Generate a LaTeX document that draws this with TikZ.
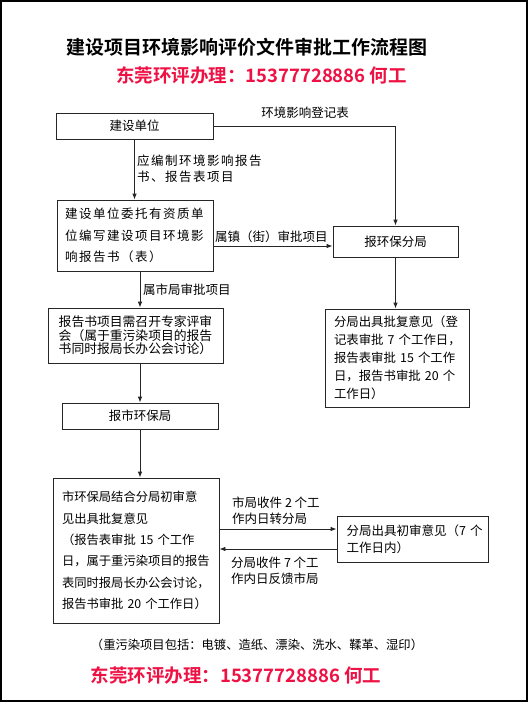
\documentclass[tikz,border=0pt]{standalone}
\usepackage{fontspec}
\setmainfont{Noto Sans CJK SC}[BoldFont={Noto Sans CJK SC Bold}]
\usetikzlibrary{arrows.meta}
\definecolor{adred}{HTML}{EE1144}
\newcommand\bxf{\fontsize{12.5}{16}\selectfont}
\begin{document}
\begin{tikzpicture}[x=1pt,y=-1pt,
  box/.style={draw=black!85, line width=0.8pt, rectangle, inner sep=0pt, font=\bxf},
  arr/.style={-{Latex[length=6pt,width=4.5pt]}, line width=0.8pt, draw=black!85},
  lbl/.style={font=\bxf, inner sep=1pt, align=left},
  redtxt/.style={text=adred, font=\fontsize{18.5}{20}\selectfont\bfseries, inner sep=0pt}]
\useasboundingbox (0,0) rectangle (528,702);
\draw[line width=2pt] (1,1) rectangle (527,701);

\node[font=\fontsize{19}{21}\selectfont\bfseries, inner sep=0pt] (T) at (247,47) {建设项目环境影响评价文件审批工作流程图};
\node[redtxt] (R1) at (261.5,75) {东莞环评办理：15377728886 何工};

\node[box, minimum width=157pt, minimum height=26pt] (B1) at (134.5,126) {建设单位};
\node[box, minimum width=156pt, minimum height=71pt, text width=140pt, align=left,
  font=\fontsize{12.5}{21.5}\selectfont\addfontfeature{LetterSpace=12}] (B2) at (135,235.5)
  {建设单位委托有资质单\\位编写建设项目环境影\\响报告书（表）};
\node[box, minimum width=125pt, minimum height=31pt] (BF) at (395.5,241.5) {报环保分局};
\node[box, minimum width=175pt, minimum height=55pt, text width=154pt, align=center,
  font=\fontsize{12.8}{13.6}\selectfont] (B3) at (135.5,335.5)
  {报告书项目需召开专家评审\\会（属于重污染项目的报告\\书同时报局长办公会讨论）};
\node[box, minimum width=156pt, minimum height=26pt] (B4) at (140,416) {报市环保局};
\node[box, minimum width=144pt, minimum height=98pt, text width=126pt, align=left,
  font=\fontsize{12.4}{18}\selectfont] (BR) at (397,358)
  {分局出具批复意见（登\\记表审批~7~个工作日，\\报告表审批~15~个工作\\日，报告书审批~20~个\\工作日）};
\node[box, minimum width=166pt, minimum height=145pt, text width=148pt, align=left,
  font=\fontsize{12.3}{21.4}\selectfont] (B5) at (136,550.5)
  {市环保局结合分局初审意\\见出具批复意见\\（报告表审批~15~个工作\\日，属于重污染项目的报告\\表同时报局长办公会讨论，\\报告书审批~20~个工作日）};
\node[box, minimum width=151pt, minimum height=46pt, text width=132pt, align=left,
  font=\fontsize{12.5}{17}\selectfont] (B6) at (412.5,539)
  {分局出具初审意见（7~个\\工作日内）};

% labels
\node[lbl] (L1) at (305,113) {环境影响登记表};
\node[lbl, anchor=west, font=\fontsize{12.5}{16}\selectfont\addfontfeature{LetterSpace=12}] (L2) at (136,169) {应编制环境影响报告\\书、报告表项目};
\node[lbl, anchor=west] (L3) at (214,237) {属镇（街）审批项目};
\node[lbl, anchor=west] (L4) at (142,290) {属市局审批项目};
\node[lbl, anchor=west] (L5) at (231,511) {市局收件~2~个工\\作内日转分局};
\node[lbl, anchor=west] (L6) at (230,571) {分局收件~7~个工\\作内日反馈市局};

% connectors
\draw[arr] (B1.east) -| (BF.north);
\draw[arr] (B1.south) -- (B1.south |- B2.north);
\coordinate (p1) at ([yshift=-10.5pt]B2.east);
\draw[arr] (p1) -- (p1 -| BF.west);
\coordinate (c1) at ([xshift=5pt]B2.south);
\draw[arr] (c1) -- (c1 |- B3.north);
\coordinate (c2) at (c1 |- B3.south);
\draw[arr] (c2) -- (c2 |- B4.north);
\draw[arr] (B4.south) -- (B4.south |- B5.north);
\draw[arr] (BF.south) -- (BF.south |- BR.north);
\coordinate (q1) at ([yshift=10pt]B6.west);
\draw[arr] (q1 -| B5.east) -- (q1);
\coordinate (q2) at ([yshift=-10pt]B6.west);
\draw[arr] (q2) -- (q2 -| B5.east);

\node[font=\fontsize{12.3}{14}\selectfont, inner sep=0pt] (F) at (257,645) {（重污染项目包括：电镀、造纸、漂染、洗水、鞣革、湿印）};
\node[redtxt] (R2) at (236,675) {东莞环评办理：15377728886 何工};
\end{tikzpicture}
\end{document}
